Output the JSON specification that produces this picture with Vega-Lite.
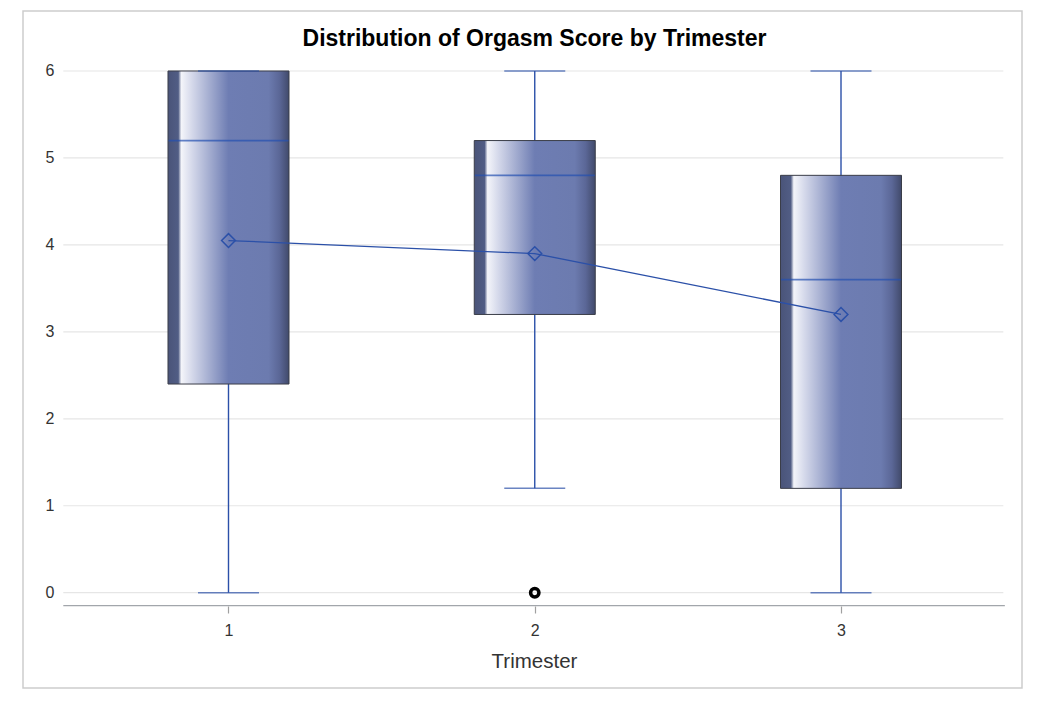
{
  "$schema": "https://vega.github.io/schema/vega-lite/v6.json",
  "width": 999,
  "height": 677,
  "autosize": {"type": "none"},
  "padding": {"left": 23, "top": 11, "right": 24, "bottom": 14},
  "background": "white",
  "config": {
    "view": {"stroke": "#cdcdcd", "strokeWidth": 1.5},
    "font": "Liberation Sans"
  },
  "title": {
    "text": "Distribution of Orgasm Score by Trimester",
    "fontSize": 23,
    "fontWeight": "bold",
    "color": "#000000",
    "font": "Liberation Sans",
    "offset": -40,
    "anchor": "middle",
    "frame": "group",
    "dx": 12
  },
  "datasets": {
    "boxes": [
      {"trimester": 1, "q1": 2.4, "q3": 6.0, "median": 5.2, "lo": 0.0, "hi": 6.0, "mean": 4.05},
      {"trimester": 2, "q1": 3.2, "q3": 5.2, "median": 4.8, "lo": 1.2, "hi": 6.0, "mean": 3.9},
      {"trimester": 3, "q1": 1.2, "q3": 4.8, "median": 3.6, "lo": 0.0, "hi": 6.0, "mean": 3.2}
    ],
    "grid": [{"v": 0}, {"v": 1}, {"v": 2}, {"v": 3}, {"v": 4}, {"v": 5}, {"v": 6}],
    "outliers": [{"trimester": 2, "score": 0}]
  },
  "layer": [
    {
      "data": {"name": "grid"},
      "mark": {"type": "rule", "color": "#e6e6e6", "strokeWidth": 1.2},
      "encoding": {
        "y": {
          "field": "v", "type": "quantitative",
          "scale": {"domain": [-1.096, 6.69], "nice": false, "zero": false, "padding": 0},
          "axis": {
            "title": null, "values": [0, 1, 2, 3, 4, 5, 6], "format": "d", "offset": -41,
            "domain": false, "ticks": false, "tickSize": 0, "grid": false,
            "labelFontSize": 16, "labelColor": "#333333", "labelPadding": 10,
            "labelFont": "Liberation Sans"
          }
        },
        "x": {
          "datum": 0.4606, "type": "quantitative",
          "scale": {"domain": [0.329, 3.591], "nice": false, "zero": false, "padding": 0},
          "axis": {
            "title": "Trimester", "values": [1, 2, 3], "format": "d", "offset": -82,
            "domain": false, "grid": false, "ticks": true, "tickSize": 7,
            "tickColor": "#a0a0a0", "tickWidth": 1.2,
            "labelFontSize": 16, "labelColor": "#333333", "labelPadding": 9,
            "labelFont": "Liberation Sans", "labelFlush": false,
            "titleFontSize": 20.5, "titleFontWeight": "normal", "titleColor": "#333333",
            "titleFont": "Liberation Sans", "titlePadding": 13, "titleX": 511
          }
        },
        "x2": {"datum": 3.53}
      }
    },
    {
      "data": {"name": "grid"},
      "transform": [{"filter": "datum.v == 0"}],
      "mark": {"type": "rule", "color": "#a2a6ab", "strokeWidth": 1.3},
      "encoding": {
        "y": {"datum": -0.1495, "type": "quantitative"},
        "x": {"datum": 0.4606, "type": "quantitative"},
        "x2": {"datum": 3.535}
      }
    },
    {
      "data": {"name": "boxes"},
      "mark": {"type": "rule", "color": "#2b50a8", "strokeWidth": 1.4},
      "encoding": {
        "x": {"field": "trimester", "type": "quantitative"},
        "y": {"field": "lo", "type": "quantitative"},
        "y2": {"field": "hi"}
      }
    },
    {
      "data": {"name": "boxes"},
      "mark": {
        "type": "bar",
        "width": 121,
        "stroke": "#3a3d48",
        "strokeWidth": 1,
        "fill": {
          "gradient": "linear",
          "x1": 0, "x2": 1, "y1": 0, "y2": 0,
          "stops": [
            {"offset": 0, "color": "#4a5479"},
            {"offset": 0.085, "color": "#515d85"},
            {"offset": 0.11, "color": "#f4f5fa"},
            {"offset": 0.2, "color": "#d4d8ea"},
            {"offset": 0.5, "color": "#6e7db3"},
            {"offset": 0.83, "color": "#6c7baf"},
            {"offset": 0.92, "color": "#5b6797"},
            {"offset": 1, "color": "#414a6b"}
          ]
        }
      },
      "encoding": {
        "x": {"field": "trimester", "type": "quantitative"},
        "y": {"field": "q1", "type": "quantitative"},
        "y2": {"field": "q3"}
      }
    },
    {
      "data": {"name": "boxes"},
      "mark": {"type": "tick", "orient": "horizontal", "size": 61, "thickness": 1.5, "color": "#2b50a8"},
      "encoding": {
        "x": {"field": "trimester", "type": "quantitative"},
        "y": {"field": "lo", "type": "quantitative"}
      }
    },
    {
      "data": {"name": "boxes"},
      "mark": {"type": "tick", "orient": "horizontal", "size": 61, "thickness": 1.5, "color": "#2b50a8"},
      "encoding": {
        "x": {"field": "trimester", "type": "quantitative"},
        "y": {"field": "hi", "type": "quantitative"}
      }
    },
    {
      "data": {"name": "boxes"},
      "mark": {"type": "tick", "orient": "horizontal", "size": 120, "thickness": 1.8, "color": "#2450b0"},
      "encoding": {
        "x": {"field": "trimester", "type": "quantitative"},
        "y": {"field": "median", "type": "quantitative"}
      }
    },
    {
      "data": {"name": "boxes"},
      "mark": {"type": "line", "color": "#2b50a8", "strokeWidth": 1.3},
      "encoding": {
        "x": {"field": "trimester", "type": "quantitative"},
        "y": {"field": "mean", "type": "quantitative"}
      }
    },
    {
      "data": {"name": "boxes"},
      "mark": {"type": "point", "shape": "diamond", "filled": false, "size": 190, "strokeWidth": 1.5, "color": "#2b50a8", "opacity": 1},
      "encoding": {
        "x": {"field": "trimester", "type": "quantitative"},
        "y": {"field": "mean", "type": "quantitative"}
      }
    },
    {
      "data": {"name": "outliers"},
      "mark": {"type": "point", "shape": "circle", "filled": false, "size": 70, "strokeWidth": 3.5, "color": "#000000", "opacity": 1},
      "encoding": {
        "x": {"field": "trimester", "type": "quantitative"},
        "y": {"field": "score", "type": "quantitative"}
      }
    }
  ]
}
